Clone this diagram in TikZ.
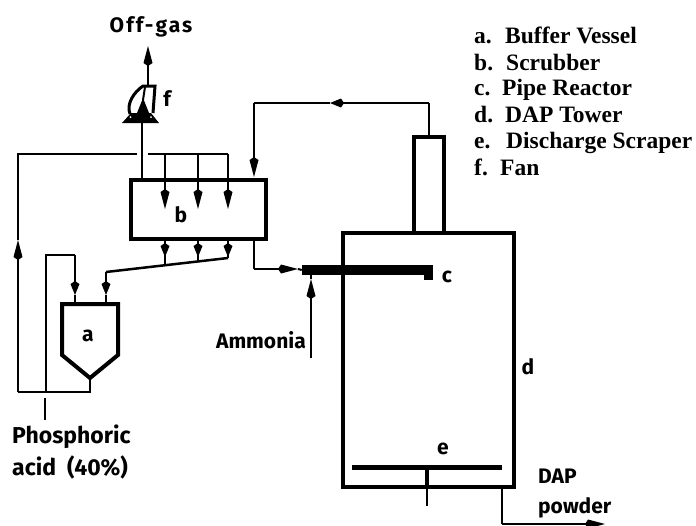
\documentclass[tikz,border=0pt]{standalone}
\usepackage{fontspec}
\setmainfont{Liberation Serif}
\setsansfont{Fira Sans}
\usepackage{xcolor}
\usetikzlibrary{positioning,arrows.meta}
\tikzset{
  pipe/.style={line width=2pt,line join=miter},
  wall/.style={line width=4pt,line join=miter},
  flow/.style={pipe,-{Kite[length=20pt,width=9pt,inset=3pt]}},
  shortflow/.style={pipe,-{Kite[length=14pt,width=9pt,inset=3pt]}},
  tag/.style={font=\sffamily\bfseries\fontsize{21}{24}\selectfont,inner sep=0pt},
  acidtag/.style={font=\sffamily\bfseries\fontsize{23}{26}\selectfont,inner sep=0pt,anchor=base west},
  legend/.style={font=\rmfamily\bfseries\fontsize{23.5}{26}\selectfont,inner sep=0pt,anchor=base west},
  box/.style={draw,wall,minimum width=#1,inner sep=0pt},
  bar/.style={fill=black,inner sep=0pt}
}
\begin{document}
\begin{tikzpicture}[x=1pt,y=-1pt]
  \useasboundingbox (0,0) rectangle (696,525);
  % equipment
  \node[box=135pt,minimum height=59pt] (scrubber) at (198,209) {};
  \node[box=171pt,minimum height=254pt] (tower) at (428.5,360) {};
  \node[box=30pt,minimum height=96pt] (stack) at (428.5,185) {};
  \node[tag] (b) at (181,215) {b};
  \node[tag] (a) at (88,336) {a};
  \node[tag] (c) at (447,277) {c};
  \node[tag] (d) at (528,367) {d};
  \node[tag] (e) at (443,449) {e};
  \node[tag] (f) at (167,99) {f};
  \coordinate (vesselapex) at (90,378);
  \draw[wall] (62,304) -- (118,304) -- (118,355) -- (vesselapex) -- (62,355) -- cycle;
  % pipe reactor
  \node[bar,minimum width=131pt,minimum height=10pt] (reactor) at (367.5,270) {};
  \node[bar,minimum width=9pt,minimum height=12pt] (reactorend) at (428.5,274) {};
  % scraper
  \node[bar,minimum width=150pt,minimum height=5pt] (scraper) at (427,467) {};
  \coordinate (shaftfoot) at (scraper.south |- tower.south);
  \coordinate (shaftend) at (427,506);
  \draw[wall] (scraper.south) -- (shaftfoot);
  \draw[pipe] (shaftfoot) -- (shaftend);
  % fan
  \coordinate (fanbase) at (142,122);
  \coordinate (fantop) at (148,85);
  \fill (122,123) -- (159,123) -- (151,113) -- (131,113) -- cycle;
  \fill (137,113) -- (149,113) -- (143,98) -- cycle;
  \fill[white] (130.5,117) circle (1pt) (151,117) circle (1pt);
  \draw[line width=3pt] (130,114) .. controls (126,104) and (134,92) .. (143,86) -- (155,86) -- (153,113);
  \draw[line width=2pt] (145,87) -- (143,100);
  % off-gas
  \coordinate (gastip) at (148,46);
  \node[tag,font=\sffamily\bfseries\fontsize{21}{24}\selectfont\addfontfeature{LetterSpace=10},anchor=base] (offgas) at (151,32) {Off-gas};
  \draw[flow] (fantop) -- (gastip);
  \draw[pipe] (fanbase) -- (fanbase |- scrubber.north);
  % liquor into scrubber
  \coordinate (split) at (148,154);
  \coordinate (splitend) at (228,154);
  \draw[pipe] (split) -- (splitend);
  \foreach \x in {165,198,228}
    \draw[flow] (\x,154) -- (\x,209);
  \coordinate (leftjoin) at (137,154);
  \coordinate (leftcorner) at (18,154);
  \coordinate (leftarrow) at (18,240);
  \coordinate (leftbottom) at (18,392);
  \coordinate (apexbottom) at (vesselapex |- leftbottom);
  \draw[pipe] (leftjoin) -- (leftcorner) -- (leftarrow);
  \draw[flow] (leftbottom) -- (leftarrow);
  \draw[pipe] (leftbottom) -- (apexbottom) -- (vesselapex);
  % scrubber bottom
  \coordinate (slopeA) at (228,258);
  \coordinate (slopeB) at (106,272);
  \draw[pipe,line width=2.5pt] (slopeA) -- (slopeB);
  \foreach \x/\yb in {165/265,198/262,228/258}{
    \draw[shortflow] (\x,240) -- (\x,257);
    \draw[pipe] (\x,250) -- (\x,\yb);
  }
  \coordinate (slopetip) at (106,295);
  \draw[shortflow] (slopeB) -- (slopetip);
  \draw[pipe] (slopetip) -- (slopetip |- 0,304);
  % phosphoric acid
  \coordinate (acidtop) at (46,255);
  \coordinate (acidend) at (46,391);
  \coordinate (acidin) at (75,255);
  \coordinate (acidtip) at (75,295);
  \draw[pipe] (acidend) -- (acidtop) -- (acidin);
  \draw[shortflow] (acidin) -- (acidtip);
  \draw[pipe] (acidtip) -- (acidtip |- 0,304);
  \coordinate (acidstubA) at (45,398);
  \coordinate (acidstubB) at (45,420);
  \draw[pipe] (acidstubA) -- (acidstubB);
  \node[acidtag] (acid1) at (12,443) {Phosphoric};
  \node[acidtag] (acid2) at (12,475) {acid\ \ (40\%)};
  % tower gas back to scrubber
  \coordinate (stackcorner) at (stack.north |- 0,103);
  \coordinate (toptip) at (330,103);
  \coordinate (topleft) at (254,103);
  \coordinate (toparrow) at (254,177);
  \draw[pipe] (stack.north) -- (stackcorner);
  \draw[shortflow] (stackcorner) -- (toptip);
  \draw[pipe] (toptip) -- (topleft);
  \draw[flow] (topleft) -- (toparrow);
  % feed to reactor
  \coordinate (feedtop) at (254,238);
  \coordinate (feedcorner) at (254,269);
  \coordinate (feedtip) at (298,269);
  \draw[pipe] (feedtop) -- (feedcorner);
  \draw[flow] (feedcorner) -- (feedtip);
  \draw[pipe] (feedtip) -- (reactor.west);
  % ammonia
  \coordinate (ammoniaend) at (311,358);
  \coordinate (ammoniatip) at (311,279);
  \draw[flow] (ammoniaend) -- (ammoniatip);
  \draw[pipe] (ammoniatip) -- (311,274);
  \node[tag,anchor=base east] (ammonia) at (306,348) {Ammonia};
  % discharge
  \node[tag,anchor=base west] (dap) at (538,483) {DAP};
  \node[tag,anchor=base west] (powder) at (538,513) {powder};
  \coordinate (outtop) at (502,487);
  \coordinate (outcorner) at (502,524);
  \coordinate (outtip) at (605,524);
  \draw[pipe] (outtop) -- (outcorner);
  \draw[flow] (outcorner) -- (outtip);
  % legend
  \foreach \n/\k/\x/\y/\t in {la/a./505/43/Buffer Vessel,lb/b./506/70/Scrubber,lc/c./502/95/Pipe Reactor,
      ld/d./505/122/DAP Tower,le/e./506/148/Discharge Scraper,lf/f./500/175/Fan}{
    \node[legend] (\n) at (474,\y) {\k};
    \node[legend] (\n t) at (\x,\y) {\t};
  }
\end{tikzpicture}
\end{document}
